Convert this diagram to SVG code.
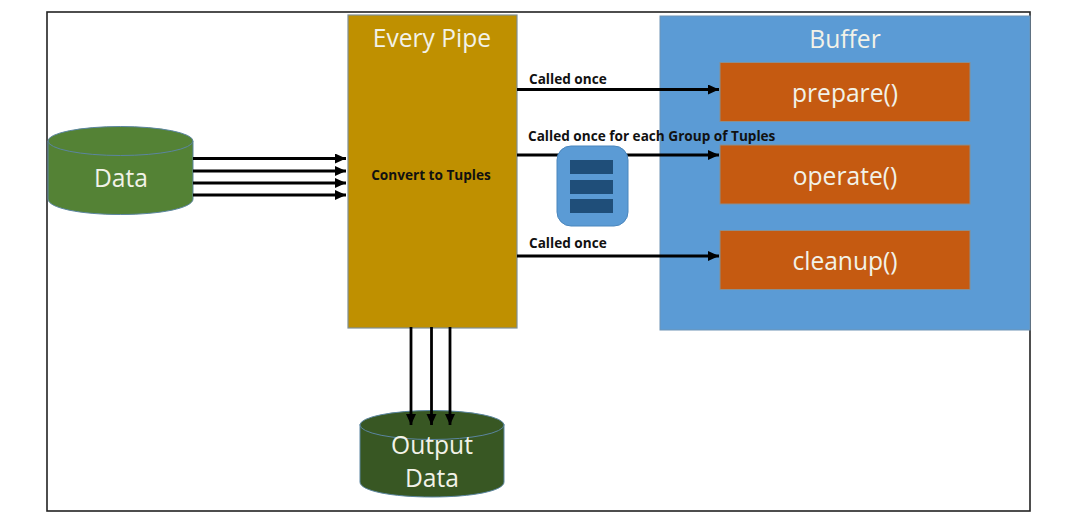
<svg xmlns="http://www.w3.org/2000/svg" width="1081" height="517" viewBox="0 0 1081 517">
<defs>
<marker id="a" markerUnits="userSpaceOnUse" markerWidth="12" markerHeight="11" refX="11" refY="5" orient="auto"><path d="M0 0L11 5L0 10Z" fill="#000"/></marker>
</defs>
<style>
.t{font-family:"Open Sans","Noto Sans",sans-serif}
.big{font-size:24.600px;fill:#f2f2e8;text-anchor:middle}
.lab{font-size:13.600px;font-weight:700;fill:#111}
.line{stroke:#000;stroke-width:2.800;fill:none;marker-end:url(#a)}
.m{fill:#c55a11;stroke:#8a8f90;stroke-width:1}
.bar{fill:#1f4e79}
</style>
<rect width="1081" height="517" fill="#fff"/>
<rect x="47" y="12" width="983" height="499" fill="#fff" stroke="#222" stroke-width="1.600"/>
<g id="buffer"><rect x="660" y="16" width="370" height="314" fill="#5b9bd5" stroke="#6f94b5"/><text class="t big" x="845" y="48">Buffer</text></g>
<g id="prepare"><rect class="m" x="720" y="62.500" width="250" height="59"/><text class="t big" x="845" y="102">prepare()</text></g>
<g id="operate"><rect class="m" x="720" y="145" width="250" height="59"/><text class="t big" x="845" y="185">operate()</text></g>
<g id="cleanup"><rect class="m" x="720" y="230.500" width="250" height="59"/><text class="t big" x="845" y="270">cleanup()</text></g>
<g id="every-pipe"><rect x="348" y="15" width="169" height="313" fill="#bf9000" stroke="#7f8f95" stroke-width="1.200"/><text class="t big" x="432" y="47">Every Pipe</text><text class="t lab" x="431" y="180" text-anchor="middle">Convert to Tuples</text></g>
<g id="data"><path d="M48 141V199C48 208 80 214.500 120.500 214.500S193 208 193 199V141Z" fill="#548235" stroke="#5b85a0"/><ellipse cx="120.500" cy="141" rx="72.500" ry="14.500" fill="#548235" stroke="#5b85a0"/><text class="t big" x="121" y="187">Data</text></g>
<g id="output-data"><path d="M360 424V482C360 491 392 497 432 497S504 491 504 482V424Z" fill="#385723" stroke="#5b85a0"/><ellipse cx="432" cy="425" rx="72" ry="14.500" fill="#385723" stroke="#5b85a0"/><text class="t big" x="432" y="454">Output</text><text class="t big" x="432" y="487">Data</text></g>
<g id="connectors">
<path class="line" d="M193 158.500H346"/><path class="line" d="M193 171H346"/><path class="line" d="M193 183H346"/><path class="line" d="M193 195H346"/>
<path class="line" d="M517 89.500H719"/><path class="line" d="M517 155H719"/><path class="line" d="M517 256H719"/>
<path class="line" d="M411 327V425"/><path class="line" d="M431.500 327V425"/><path class="line" d="M450 327V425"/>
</g>
<g id="queue"><rect x="557" y="146" width="71" height="80" rx="14" fill="#5b9bd5" stroke="#4a86bd"/><rect class="bar" x="570" y="160" width="43" height="14"/><rect class="bar" x="570" y="180" width="43" height="14"/><rect class="bar" x="570" y="199" width="43" height="14"/></g>
<text class="t lab" x="529" y="84">Called once</text>
<text class="t lab" x="528" y="141">Called once for each Group of Tuples</text>
<text class="t lab" x="529" y="248">Called once</text>
</svg>
